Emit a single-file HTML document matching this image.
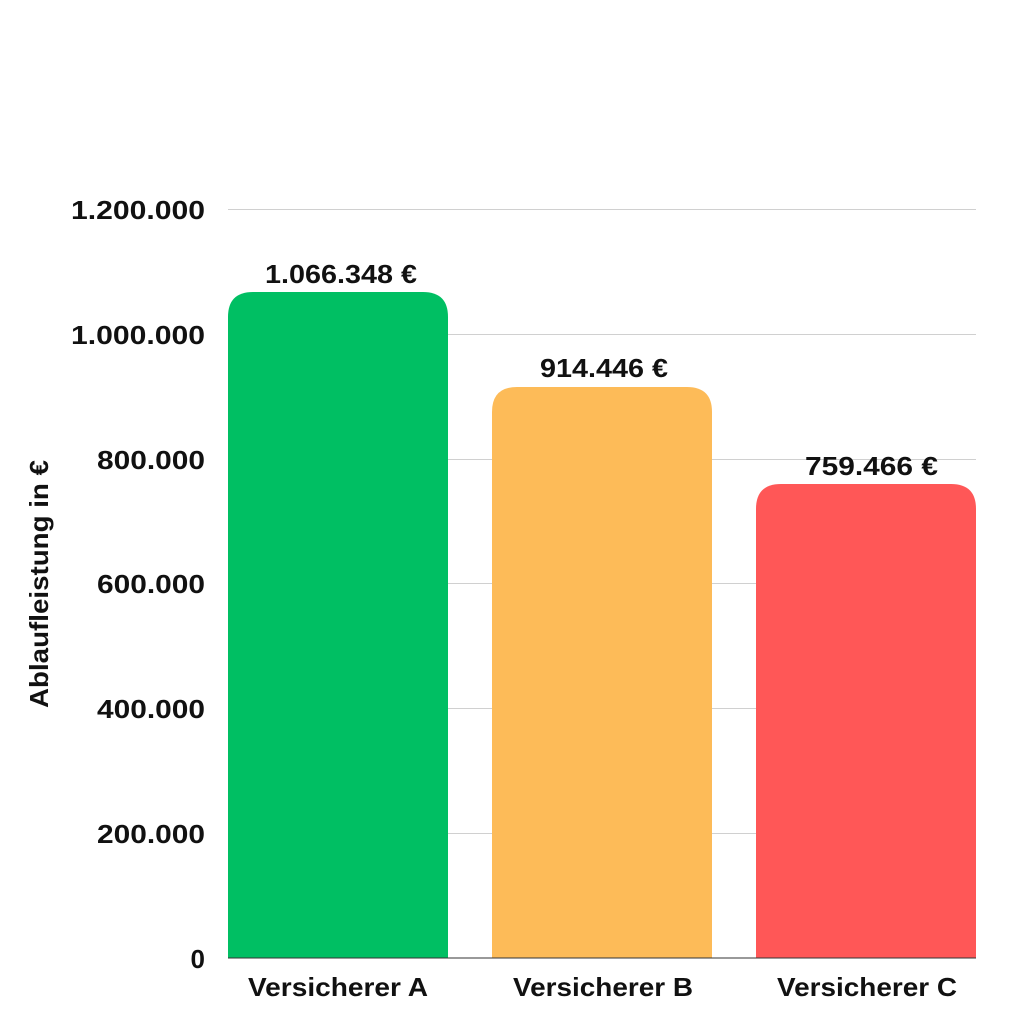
<!DOCTYPE html>
<html><head><meta charset="utf-8"><style>
html,body{margin:0;padding:0;background:#fff}
svg text{font-family:"Liberation Sans",Arial,sans-serif;font-weight:bold;fill:#111}
</style></head><body>
<svg width="1024" height="1024" viewBox="0 0 1024 1024" xmlns="http://www.w3.org/2000/svg">
<g stroke="#d0d0d0" stroke-width="1">
<line x1="228" y1="209.5" x2="976" y2="209.5"/>
<line x1="228" y1="334.5" x2="976" y2="334.5"/>
<line x1="228" y1="459.5" x2="976" y2="459.5"/>
<line x1="228" y1="583.5" x2="976" y2="583.5"/>
<line x1="228" y1="708.5" x2="976" y2="708.5"/>
<line x1="228" y1="833.5" x2="976" y2="833.5"/>
</g>
<g font-size="26" text-anchor="end" lengthAdjust="spacingAndGlyphs">
<text x="205" y="219" textLength="134" lengthAdjust="spacingAndGlyphs">1.200.000</text>
<text x="205" y="344" textLength="134" lengthAdjust="spacingAndGlyphs">1.000.000</text>
<text x="205" y="469" textLength="108" lengthAdjust="spacingAndGlyphs">800.000</text>
<text x="205" y="593" textLength="108" lengthAdjust="spacingAndGlyphs">600.000</text>
<text x="205" y="718" textLength="108" lengthAdjust="spacingAndGlyphs">400.000</text>
<text x="205" y="843" textLength="108" lengthAdjust="spacingAndGlyphs">200.000</text>
<text x="205" y="968">0</text>
</g>
<path d="M228,958 V317 Q228,292 253,292 H423 Q448,292 448,317 V958 Z" fill="#00BF63"/>
<path d="M492,958 V412 Q492,387 517,387 H687 Q712,387 712,412 V958 Z" fill="#FDBB58"/>
<path d="M756,958 V509 Q756,484 781,484 H951 Q976,484 976,509 V958 Z" fill="#FF5757"/>
<line x1="228" y1="958" x2="976" y2="958" stroke="#333" stroke-width="1"/>
<g font-size="26">
<text x="265" y="283" textLength="152" lengthAdjust="spacingAndGlyphs">1.066.348 €</text>
<text x="540" y="377" textLength="128" lengthAdjust="spacingAndGlyphs">914.446 €</text>
<text x="805" y="475" textLength="133" lengthAdjust="spacingAndGlyphs">759.466 €</text>
<text x="248" y="996" textLength="180" lengthAdjust="spacingAndGlyphs">Versicherer A</text>
<text x="513" y="996" textLength="180" lengthAdjust="spacingAndGlyphs">Versicherer B</text>
<text x="777" y="996" textLength="180" lengthAdjust="spacingAndGlyphs">Versicherer C</text>
<text transform="translate(48,708) rotate(-90)" textLength="248" lengthAdjust="spacingAndGlyphs">Ablaufleistung in €</text>
</g>
</svg>
</body></html>
